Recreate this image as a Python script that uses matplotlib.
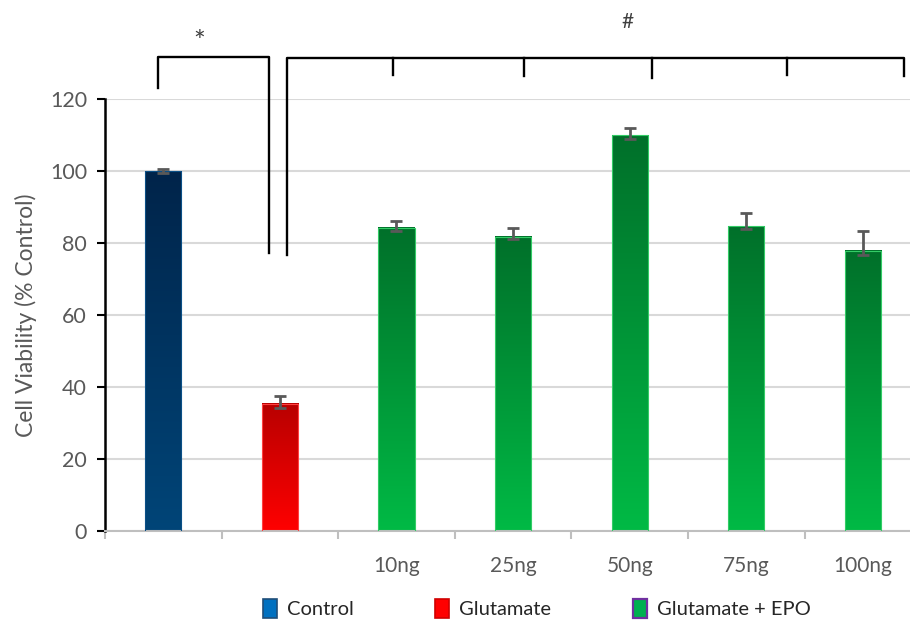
import numpy as np
import matplotlib
matplotlib.use("Agg")
import matplotlib.pyplot as plt
from matplotlib.colors import LinearSegmentedColormap
from matplotlib.patches import Patch

plt.rcParams['font.family'] = ['Lato', 'DejaVu Sans']

# data
groups = ['', '', '10ng', '25ng', '50ng', '75ng', '100ng']
viability = [100.0, 35.3, 84.3, 81.8, 110.0, 84.6, 77.9]
err_low = [0.6, 1.1, 0.9, 0.8, 1.2, 0.8, 1.3]
err_high = [0.6, 2.3, 1.7, 2.4, 1.9, 3.8, 5.3]
kind = ['ctrl', 'glu', 'epo', 'epo', 'epo', 'epo', 'epo']

grad = {
    'ctrl': ('#004578', '#00244A', '#0A4F86'),
    'glu': ('#FF0000', '#B80000', '#FF4040'),
    'epo': ('#00BA45', '#00702A', '#33CC66'),
}

fig = plt.figure(figsize=(9.1, 6.21), dpi=100)
ax = fig.add_axes([105/910, 1 - 531/621, 1 - 105/910, (531 - 99)/621])

x = np.arange(len(groups))
w = 0.31
for xi, v, k in zip(x, viability, kind):
    bottom_c, top_c, edge_c = grad[k]
    cmap = LinearSegmentedColormap.from_list(k, [bottom_c, top_c])
    g = np.linspace(0, 1, 256).reshape(-1, 1)
    ax.imshow(g, cmap=cmap, origin='lower', aspect='auto',
              extent=[xi - w/2, xi + w/2, 0, v], zorder=2)
    ax.bar(xi, v, w, facecolor='none', edgecolor=edge_c, linewidth=0.8, zorder=3)

ax.errorbar(x, viability, yerr=[err_low, err_high], fmt='none', ecolor='#595959',
            elinewidth=2, capsize=4.5, capthick=2, zorder=4)

ax.set_xlim(-0.5, 6.404)
ax.set_ylim(0, 120)

ax.set_yticks(np.arange(0, 121, 20))
ax.yaxis.grid(True, color='#D9D9D9', linewidth=1.5, zorder=0)
ax.set_axisbelow(True)
ax.tick_params(axis='y', colors='black', length=6, width=1.5, labelsize=15.5,
               labelcolor='#595959', pad=7)

ax.set_xticks(np.arange(-0.5, 6.5, 1.0))
ax.set_xticklabels([])
ax.set_xticks(x, minor=True)
ax.set_xticklabels(groups, minor=True)
ax.tick_params(axis='x', which='major', colors='#BFBFBF', length=6, width=1.5)
ax.tick_params(axis='x', which='minor', length=0, labelsize=15,
               labelcolor='#595959', pad=18)

for s in ['top', 'right']:
    ax.spines[s].set_visible(False)
ax.spines['left'].set_color('black')
ax.spines['left'].set_linewidth(1.8)
ax.spines['bottom'].set_color('#BFBFBF')
ax.spines['bottom'].set_linewidth(1.5)

ax.set_ylabel('Cell Viability (% Control)', fontsize=16.5, color='#595959', labelpad=9)

# significance brackets
lk = dict(color='black', lw=1.7, clip_on=False, zorder=5)
ax.plot([-0.045, -0.045, 0.906, 0.906], [123, 131.8, 131.8, 77.2], **lk)
ax.plot([1.06, 1.06, 6.35, 6.35], [76.7, 131.5, 131.5, 126.5], **lk)
for xt, yt in [(1.97, 126.7), (3.09, 126.4), (4.19, 125.8), (5.35, 126.7)]:
    ax.plot([xt, xt], [131.5, yt], **lk)
ax.text(0.31, 135.5, '*', ha='center', va='center', fontsize=20, color='#404040',
        clip_on=False)
ax.text(3.98, 141.5, '#', ha='center', va='center', fontsize=15, color='#404040',
        clip_on=False)

handles = [
    Patch(facecolor='#0070C0', edgecolor='#1F4E79', linewidth=1.2, label='Control'),
    Patch(facecolor='#FF0000', edgecolor='#D00000', linewidth=1.2, label='Glutamate'),
    Patch(facecolor='#00B050', edgecolor='#7030A0', linewidth=1.6, label='Glutamate + EPO'),
]
leg = fig.legend(handles=handles, loc='center', bbox_to_anchor=(0.59, 0.02), ncol=3,
                 frameon=False, fontsize=14.5, handlelength=0.7, handleheight=1.1,
                 handletextpad=0.5, columnspacing=4.05)
for t in leg.get_texts():
    t.set_color('#262626')

fig.savefig('out.png', dpi=100)
